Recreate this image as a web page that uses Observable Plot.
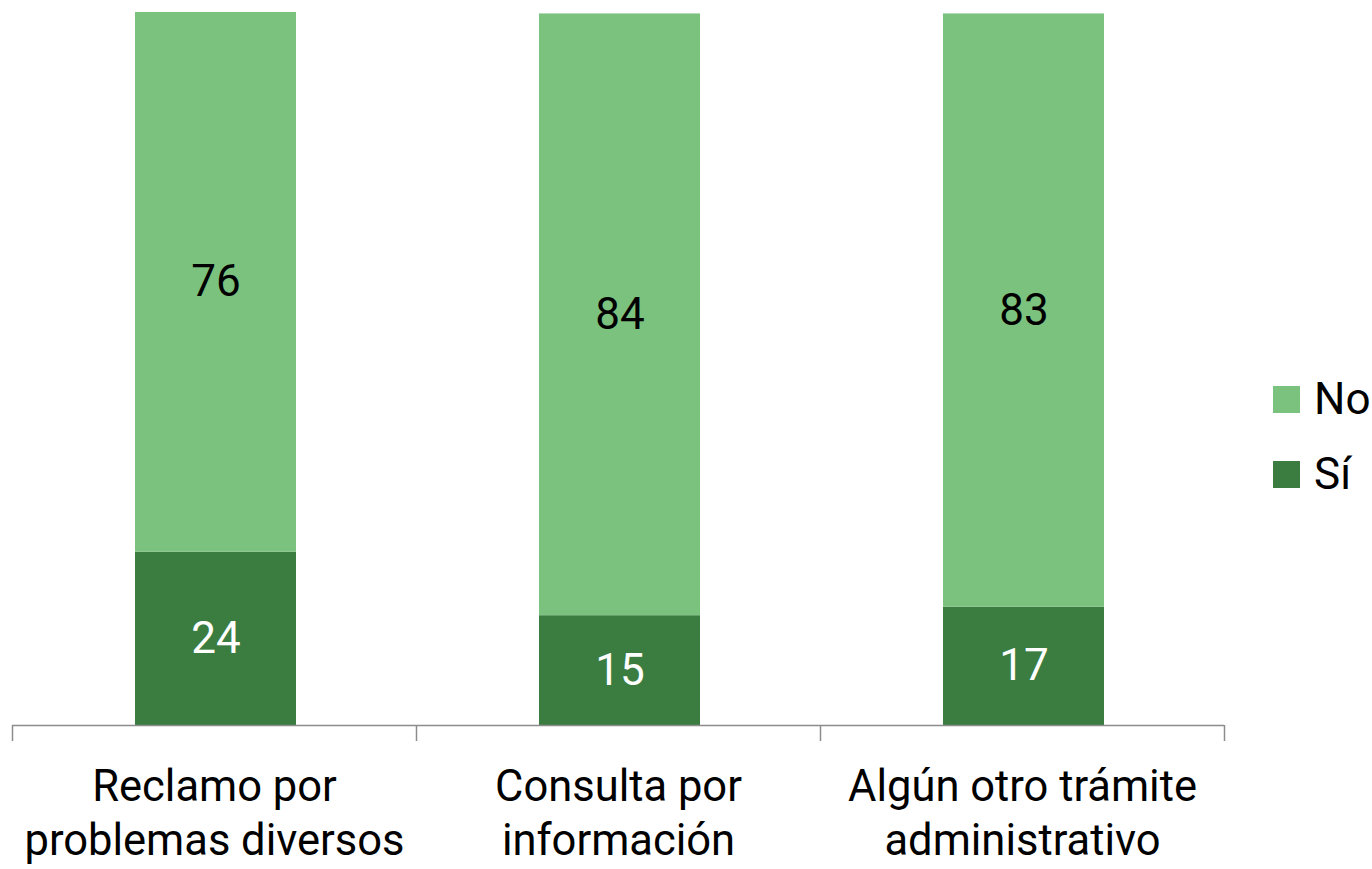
<!DOCTYPE html>
<html>
<head>
<meta charset="utf-8">
<script src="https://cdn.jsdelivr.net/npm/d3@7"></script>
<script src="https://cdn.jsdelivr.net/npm/@observablehq/plot@0.6"></script>
<style>
  html, body { margin: 0; padding: 0; background: #ffffff; }
  #wrap { position: relative; width: 1372px; height: 869px; overflow: hidden; font-family: Roboto, sans-serif; }
  #legend { position: absolute; left: 1273px; top: 385px; }
  .item { display: flex; align-items: center; height: 28px; margin-bottom: 47px; }
  .sw { width: 27px; height: 27px; margin-right: 14px; flex: none; }
  .lab { font-size: 44px; line-height: 28px; color: #000; white-space: nowrap; }
</style>
</head>
<body>
<div id="wrap"><div id="chart"></div><div id="legend"></div></div>
<script>
const categories = ["Reclamo por problemas diversos", "Consulta por información", "Algún otro trámite administrativo"];
const tickLabels = ["Reclamo por\nproblemas diversos", "Consulta por\ninformación", "Algún otro trámite\nadministrativo"];
const series = ["Sí", "No"];
const siValues = [24.3, 15.4, 16.6];
const noValues = [75.7, 84.4, 83.2];
const colors = ["#3b7d41", "#7bc27f"];
const legendOrder = ["No", "Sí"];

const data = [];
categories.forEach((c, i) => {
  data.push({category: c, series: "Sí", value: siValues[i]});
  data.push({category: c, series: "No", value: noValues[i]});
});
const labelOf = new Map(categories.map((c, i) => [c, tickLabels[i]]));

const font = "Roboto, sans-serif";
const chart = Plot.plot({
  width: 1372,
  height: 869,
  marginTop: 12,
  marginBottom: 144,
  marginLeft: 12,
  marginRight: 148,
  style: {fontFamily: font, background: "transparent"},
  x: {domain: categories, padding: 0, axis: null},
  y: {domain: [0, 100], axis: null},
  color: {domain: series, range: colors},
  marks: [
    Plot.barY(data, Plot.stackY({x: "category", y: "value", fill: "series", z: "series", insetLeft: 123, insetRight: 120})),
    Plot.ruleY([0], {stroke: "#8c8c8c", strokeWidth: 1.5}),
    Plot.ruleX(categories, {x: d => d, y1: 0, y2: 0, dx: -202, insetBottom: -16, stroke: "#8c8c8c", strokeWidth: 1.5}),
    Plot.ruleX(categories.slice(-1), {x: d => d, y1: 0, y2: 0, dx: 202, insetBottom: -16, stroke: "#8c8c8c", strokeWidth: 1.5}),
    Plot.text(data, Plot.stackY({x: "category", y: "value", z: "series",
      text: d => String(Math.round(d.value)),
      fill: d => d.series === "Sí" ? "white" : "black",
      dx: 1.5,
      fontSize: 44, fontFamily: font})),
    Plot.text(categories, {x: d => d, y: 0, text: d => labelOf.get(d), lineAnchor: "top", dy: 37,
      fontSize: 43.5, lineHeight: 1.25, fill: "black", fontFamily: font})
  ]
});
document.getElementById("chart").appendChild(chart);

const legend = document.getElementById("legend");
legendOrder.forEach(s => {
  const item = document.createElement("div");
  item.className = "item";
  const sw = document.createElement("div");
  sw.className = "sw";
  sw.style.background = colors[series.indexOf(s)];
  const lab = document.createElement("span");
  lab.className = "lab";
  lab.textContent = s;
  item.appendChild(sw);
  item.appendChild(lab);
  legend.appendChild(item);
});
</script>
</body>
</html>
